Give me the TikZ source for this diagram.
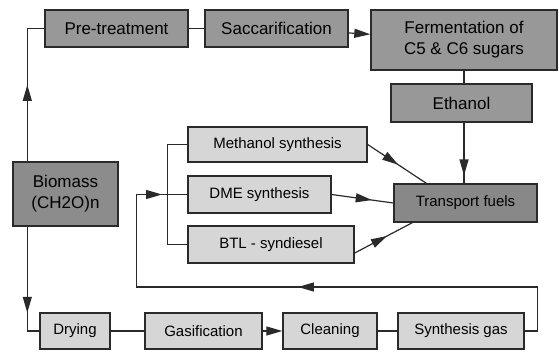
\documentclass[tikz,border=0pt]{standalone}
\usepackage{fontspec}
\setmainfont{Liberation Sans}
\usetikzlibrary{arrows.meta,decorations.markings}
\definecolor{darkbox}{HTML}{989898}
\definecolor{biobox}{HTML}{8C8C8C}
\definecolor{fuelbox}{HTML}{888888}
\definecolor{lightbox}{HTML}{D6D6D6}
\definecolor{edgeline}{HTML}{2A2A2A}

\begin{document}
\begin{tikzpicture}[x=1pt,y=-1pt,
	box/.style={draw=edgeline,line width=1.4pt,inner sep=0pt,align=center},
	dark/.style={box,fill=darkbox,font=\fontsize{17}{21}\selectfont},
	light/.style={box,fill=lightbox,font=\fontsize{15}{18}\selectfont},
	link/.style={line width=1.2pt,color=edgeline},
	midtip/.style={decoration={markings,mark=at position #1 with {\arrow{Triangle[length=16pt,width=9pt]}}},postaction={decorate}},
	endtip/.style={-{Triangle[length=16pt,width=9pt]}}]
	\useasboundingbox (0,0) rectangle (559,351);
	% upper route
	\node[dark,minimum width=143pt,minimum height=37pt] (pre)   at (116.5,28.5) {Pre-treatment};
	\node[dark,minimum width=143pt,minimum height=37pt] (sacc)  at (276.5,28.5) {Saccarification};
	\node[dark,minimum width=186pt,minimum height=60pt] (ferm)  at (464,40)     {Fermentation of\\C5 \& C6 sugars};
	\node[dark,minimum width=141pt,minimum height=38pt] (eth)   at (461.5,103)  {Ethanol};
	\node[box,fill=fuelbox,font=\fontsize{15}{18}\selectfont,minimum width=143pt,minimum height=38pt] (fuel) at (465.5,203) {Transport fuels};
	\node[dark,fill=biobox,minimum width=105pt,minimum height=64pt] (bio) at (65.5,194) {Biomass\\(CH2O)n};
	% synthesis boxes
	\node[light,minimum width=179pt,minimum height=35pt] (meth)  at (277.5,144.5) {Methanol synthesis};
	\node[light,minimum width=143pt,minimum height=37pt] (dme)   at (259.5,194.5) {DME synthesis};
	\node[light,minimum width=166pt,minimum height=37pt] (btl)   at (271,244.5)   {BTL - syndiesel};
	% lower route
	\node[light,minimum width=70pt,minimum height=36pt]  (dry)   at (75,331)    {Drying};
	\node[light,minimum width=117pt,minimum height=36pt] (gas)   at (203.5,331) {Gasification};
	\node[light,minimum width=94pt,minimum height=36pt]  (clean) at (330,331)   {Cleaning};
	\node[light,minimum width=126pt,minimum height=36pt] (syn)   at (461,331)   {Synthesis gas};
	%
	\foreach \u/\v in {pre/sacc, dry/gas, clean/syn}
	{	\draw[link] (\u) -- (\v);
	}
	\foreach \u/\v in {sacc/ferm, gas/clean}
	{	\draw[link,endtip] (\u) -- (\v);
	}
	\draw[link,midtip=0.51] ([xshift=15pt]bio.north west) |- (pre.west);
	\draw[link,midtip=0.74] ([xshift=15pt]bio.south west) |- (dry.west);
	\draw[link] (ferm.south) -- (ferm.south |- eth.north);
	\draw[link,midtip=0.87] (ferm.south |- eth.south) -- (ferm.south |- fuel.north);
	\draw[link,midtip=0.52] (meth.east) -- ([xshift=33pt]fuel.north west);
	\draw[link,midtip=0.65] (dme.east) -- (fuel.west);
	\draw[link,midtip=0.56] ([yshift=-8.5pt]btl.east) -- ([xshift=19pt]fuel.south west);
	\draw[link] (meth.west) -- ++(-20,0) |- (btl.west);
	% recycle of synthesis gas
	\draw[link,decoration={markings,
			mark=at position 0.493 with {\arrow{Triangle[length=16pt,width=9pt]}},
			mark=at position 0.958 with {\arrow{Triangle[length=16pt,width=9pt]}}},postaction={decorate}]
		(syn.east) -- ++(13,0) -- ++(0,-44) -| ([xshift=-51pt]dme.west) -- (dme.west);
	%
\end{tikzpicture}
\end{document}
